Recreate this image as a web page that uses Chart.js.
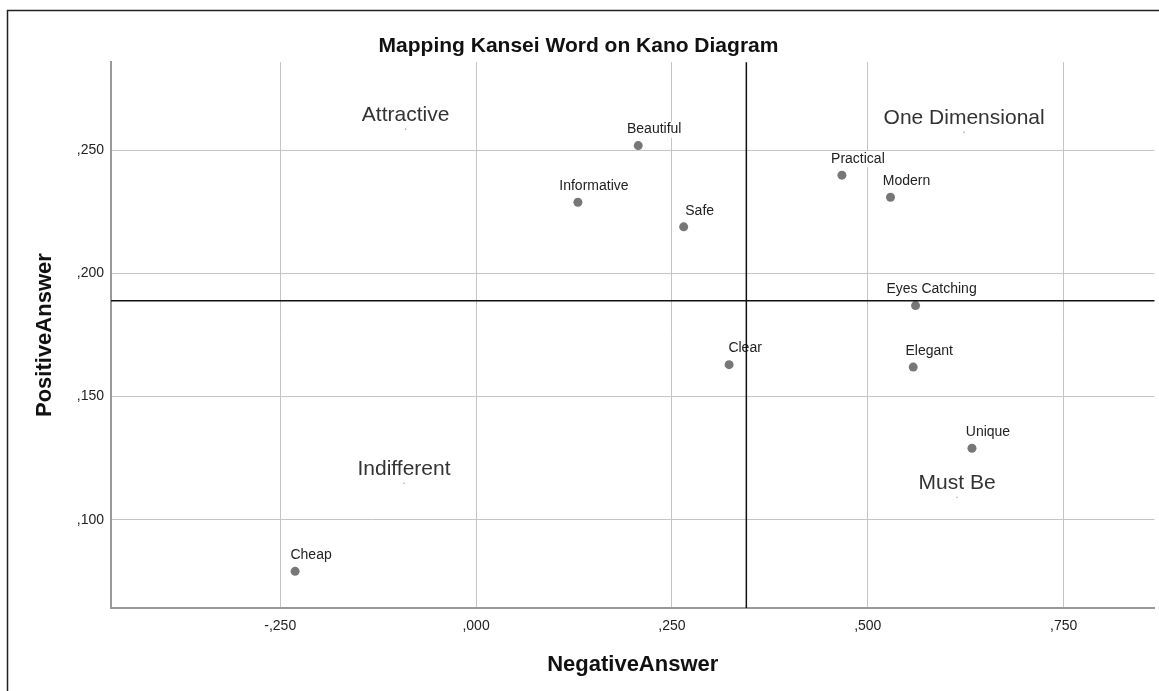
<!DOCTYPE html>
<html>
<head>
<meta charset="utf-8">
<script src="https://cdn.jsdelivr.net/npm/chart.js@4/dist/chart.umd.min.js"></script>
<style>
  body { margin: 0; background: #fff; overflow: hidden; }
  #wrap { width: 1159px; height: 691px; position: relative; }
</style>
</head>
<body>
<div id="wrap"><canvas id="myChart"></canvas></div>
<script>
// kansei words and their kano coordinates
const words = ["Beautiful", "Informative", "Safe", "Practical", "Modern",
               "Eyes Catching", "Clear", "Elegant", "Unique", "Cheap"];
const negativeAnswer = [0.207, 0.130, 0.265, 0.467, 0.529, 0.561, 0.323, 0.558, 0.633, -0.231];
const positiveAnswer = [0.252, 0.229, 0.219, 0.240, 0.231, 0.187, 0.163, 0.162, 0.129, 0.079];

// quadrant annotations
const quadrantNames = ["Attractive", "One Dimensional", "Indifferent", "Must Be"];
const quadrantX = [-0.090, 0.623, -0.092, 0.614];
const quadrantY = [0.2587, 0.2574, 0.1148, 0.1091];

// reference lines (means)
const refX = 0.345;
const refY = 0.189;

const FONT = "Arial, 'Liberation Sans', sans-serif";

function fmt(v) {
    // spss style: ,250  -,250  ,000
    let s = Math.abs(v).toFixed(3).replace("0.", ",");
    return (v < -1e-9 ? "-" : "") + s;
}

const pointsData = words.map((w, i) => ({x: negativeAnswer[i], y: positiveAnswer[i]}));
const quadData = quadrantNames.map((q, i) => ({x: quadrantX[i], y: quadrantY[i]}));

const framePlugin = {
    id: "frame",
    beforeDraw(chart) {
        const ctx = chart.ctx;
        ctx.save();
        ctx.fillStyle = "#fff";
        ctx.fillRect(0, 0, chart.width, chart.height);
        ctx.strokeStyle = "#222";
        ctx.lineWidth = 1.5;
        ctx.strokeRect(7.5, 10.5, 1400, 1000);
        ctx.restore();
    }
};

const labelPlugin = {
    id: "pointLabels",
    afterDatasetsDraw(chart) {
        const ctx = chart.ctx;
        ctx.save();
        ctx.textAlign = "center";
        ctx.textBaseline = "middle";
        // word labels
        chart.getDatasetMeta(0).data.forEach((pt, i) => {
            ctx.font = "14px " + FONT;
            const tx = pt.x + 16, ty = pt.y - 16;
            const w = ctx.measureText(words[i]).width;
            ctx.fillStyle = "#fff";
            ctx.fillRect(tx - w / 2 - 1, ty - 8, w + 2, 16);
            ctx.fillStyle = "#222";
            ctx.fillText(words[i], tx, ty);
        });
        // quadrant names
        chart.getDatasetMeta(1).data.forEach((pt, i) => {
            ctx.font = "21px " + FONT;
            const tx = pt.x, ty = pt.y - 14;
            const w = ctx.measureText(quadrantNames[i]).width;
            ctx.fillStyle = "#fff";
            ctx.fillRect(tx - w / 2 - 4, ty - 12, w + 8, 24);
            ctx.fillStyle = "#333";
            ctx.fillText(quadrantNames[i], tx, ty);
        });
        ctx.restore();
    },
    afterDraw(chart) {
        // black reference lines on top
        const ctx = chart.ctx, a = chart.chartArea;
        const px = chart.scales.x.getPixelForValue(refX);
        const py = chart.scales.y.getPixelForValue(refY);
        ctx.save();
        ctx.strokeStyle = "#111";
        ctx.lineWidth = 1.5;
        ctx.beginPath();
        ctx.moveTo(px, a.top);
        ctx.lineTo(px, a.bottom);
        ctx.moveTo(a.left, py);
        ctx.lineTo(a.right, py);
        ctx.stroke();
        ctx.restore();
    }
};

new Chart(document.getElementById("myChart"), {
    type: "scatter",
    data: {
        datasets: [{
            label: "Kansei",
            data: pointsData,
            pointRadius: 4.5,
            pointHoverRadius: 4.5,
            backgroundColor: "#777",
            borderColor: "#777",
            borderWidth: 0
        }, {
            label: "Quadrant",
            data: quadData,
            pointRadius: 0.8,
            backgroundColor: "#aaa",
            borderColor: "#aaa",
            borderWidth: 0
        }]
    },
    options: {
        responsive: true,
        maintainAspectRatio: false,
        animation: false,
        layout: { padding: { left: 0, right: 2, top: 0, bottom: 0 } },
        plugins: {
            legend: { display: false },
            tooltip: { enabled: false },
            title: {
                display: true,
                text: "Mapping Kansei Word on Kano Diagram",
                color: "#111",
                font: { family: FONT, size: 21, weight: "bold" },
                padding: { top: 34, bottom: 3 }
            }
        },
        scales: {
            x: {
                type: "linear",
                min: -0.466,
                max: 0.866,
                ticks: {
                    stepSize: 0.25,
                    includeBounds: false,
                    autoSkip: false,
                    maxRotation: 0,
                    padding: 10,
                    color: "#222",
                    font: { family: FONT, size: 14 },
                    callback: v => fmt(v)
                },
                grid: { color: "#c4c4c4", lineWidth: 1, drawTicks: false },
                border: { color: "#999", width: 2 },
                title: {
                    display: true,
                    text: "NegativeAnswer",
                    color: "#111",
                    font: { family: FONT, size: 22, weight: "bold" },
                    padding: { top: 0, bottom: 13 }
                },
                afterFit(scale) { scale.height = 83; }
            },
            y: {
                type: "linear",
                min: 0.0641,
                max: 0.2859,
                ticks: {
                    stepSize: 0.05,
                    includeBounds: false,
                    autoSkip: false,
                    padding: 7,
                    color: "#222",
                    font: { family: FONT, size: 14 },
                    callback: v => fmt(v)
                },
                grid: { color: "#c4c4c4", lineWidth: 1, drawTicks: false },
                border: { color: "#999", width: 2 },
                title: {
                    display: true,
                    text: "PositiveAnswer",
                    color: "#111",
                    font: { family: FONT, size: 22, weight: "bold" },
                    padding: { top: 32, bottom: 0 }
                },
                afterFit(scale) { scale.width = 111; }
            }
        }
    },
    plugins: [framePlugin, labelPlugin]
});
</script>
</body>
</html>
